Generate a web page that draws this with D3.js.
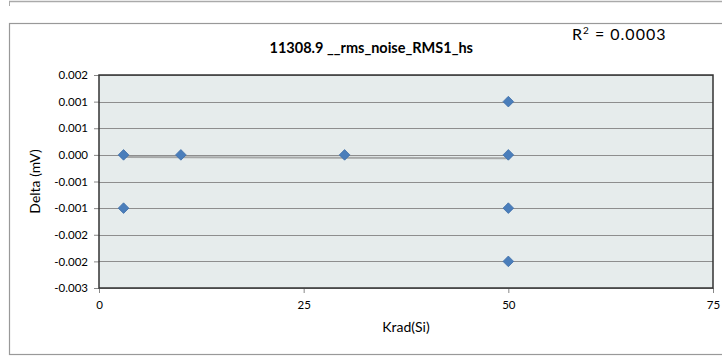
<!DOCTYPE html>
<meta charset='utf-8'>
<html>
  <style>
    body { margin: 0; background: #fff; }
    text { font-family: Lato, "Open Sans", sans-serif; fill: #000; }
    .title { font-size: 14.5px; font-weight: bold; }
    .axis text { font-size: 11.5px; }
    .axis path, .axis line { stroke: #888; }
  </style>
  <head>
    <script src="https://cdn.jsdelivr.net/npm/d3@7/dist/d3.min.js"></script>
  </head>
  <body>
    <div id="chart"></div>
    <script>
      // readings, many repeats overlap at zero
      var doses  = [3, 3, 10, 30, 50, 50, 50, 50],
          deltas = [0, -0.001, 0, 0, 0.001, 0, -0.001, -0.002],
          counts = [9, 1, 10, 10, 1, 22, 1, 1];

      var xTicks = [0, 25, 50, 75],
          yTicks = [0.0015, 0.001, 0.0005, 0, -0.0005, -0.001, -0.0015, -0.002, -0.0025],
          yTickLabels = ["0.002", "0.001", "0.001", "0.000", "-0.001", "-0.001", "-0.002", "-0.002", "-0.003"];

      var title = "11308.9 __rms_noise_RMS1_hs";

      var W = 722, H = 357,
          frame = {left: 9.5, top: 23.5, right: 733, bottom: 354.5},
          plot = {left: 99, right: 713, top: 75, bottom: 288};

      var svg = d3.select("#chart").append("svg")
        .attr("width", W).attr("height", H);

      // bit of the chart above + this chart's frame
      svg.append("line").attr("x1", 9).attr("x2", W).attr("y1", 1.5).attr("y2", 1.5)
        .attr("stroke", "#aaa").attr("stroke-width", 1.5);
      svg.append("line").attr("x1", 9.5).attr("x2", 9.5).attr("y1", 1).attr("y2", 6)
        .attr("stroke", "#aaa");
      svg.append("rect").attr("x", frame.left).attr("y", frame.top)
        .attr("width", frame.right - frame.left).attr("height", frame.bottom - frame.top)
        .attr("fill", "#fff").attr("stroke", "#999").attr("stroke-width", 1.2);

      var x = d3.scaleLinear().domain([0, 75]).range([plot.left, plot.right]);
      var y = d3.scaleLinear().domain([-0.0025, 0.0015]).range([plot.bottom, plot.top]);

      svg.append("rect")
        .attr("x", plot.left).attr("y", plot.top)
        .attr("width", plot.right - plot.left).attr("height", plot.bottom - plot.top)
        .attr("fill", "#e6ecec");

      // gridlines
      svg.append("g").selectAll("line").data(yTicks).enter().append("line")
        .attr("x1", plot.left).attr("x2", plot.right)
        .attr("y1", function(d){ return Math.round(y(d)) + 0.5; })
        .attr("y2", function(d){ return Math.round(y(d)) + 0.5; })
        .attr("stroke", "#8e8e8e").attr("stroke-width", 1.2);

      var yAxis = d3.axisLeft(y).tickValues(yTicks).tickSize(5).tickPadding(6)
        .tickFormat(function(d, i){ return yTickLabels[i]; });
      var xAxis = d3.axisBottom(x).tickValues(xTicks).tickSize(5).tickPadding(8);

      svg.append("g").attr("class", "axis").attr("transform", "translate(" + plot.left + ",0)")
        .call(yAxis).call(function(g){ g.select(".domain").remove(); });
      svg.append("g").attr("class", "axis").attr("transform", "translate(0," + plot.bottom + ")")
        .call(xAxis).call(function(g){ g.select(".domain").remove(); });

      // plot frame
      svg.append("rect")
        .attr("x", plot.left).attr("y", plot.top)
        .attr("width", plot.right - plot.left).attr("height", plot.bottom - plot.top)
        .attr("fill", "none").attr("stroke", "#333").attr("stroke-width", 1.5);

      // linear trend through every reading
      var pts = [];
      doses.forEach(function(d, i){
        for (var k = 0; k < counts[i]; k++) pts.push([d, deltas[i]]);
      });
      var mx = d3.mean(pts, function(p){ return p[0]; }),
          my = d3.mean(pts, function(p){ return p[1]; }),
          sxy = d3.sum(pts, function(p){ return (p[0] - mx) * (p[1] - my); }),
          sxx = d3.sum(pts, function(p){ return (p[0] - mx) * (p[0] - mx); }),
          slope = sxy / sxx,
          icpt = my - slope * mx,
          xr = d3.extent(doses);

      svg.append("line")
        .attr("x1", x(xr[0])).attr("x2", x(xr[1]))
        .attr("y1", y(icpt + slope * xr[0])).attr("y2", y(icpt + slope * xr[1]))
        .attr("stroke", "#a6a8a8").attr("stroke-width", 2);

      var diamond = d3.symbol().type(d3.symbolDiamond2).size(72);
      svg.append("g").selectAll("path").data(doses).enter().append("path")
        .attr("d", diamond)
        .attr("transform", function(d, i){ return "translate(" + x(d) + "," + y(deltas[i]) + ")"; })
        .attr("fill", "#4a7ebb").attr("stroke", "#3f6fa8").attr("stroke-width", 0.8);

      // title is centred on the whole chart area
      svg.append("text").attr("class", "title")
        .attr("x", (frame.left + frame.right) / 2).attr("y", 53)
        .attr("text-anchor", "middle")
        .text(title);

      var r2 = svg.append("text")
        .attr("x", 572).attr("y", 40)
        .style("font-size", "16px").style("letter-spacing", "1px");
      r2.append("tspan").text("R");
      r2.append("tspan").attr("dy", -6).style("font-size", "10px").text("2");
      r2.append("tspan").attr("dy", 6).text(" = 0.0003");

      svg.append("text")
        .attr("x", (plot.left + plot.right) / 2).attr("y", 332).attr("text-anchor", "middle")
        .style("font-size", "14px")
        .text("Krad(Si)");

      svg.append("text")
        .attr("transform", "translate(40," + (plot.top + plot.bottom) / 2 + ") rotate(-90)")
        .attr("text-anchor", "middle")
        .style("font-size", "14px")
        .text("Delta (mV)");
    </script>
  </body>
</html>
